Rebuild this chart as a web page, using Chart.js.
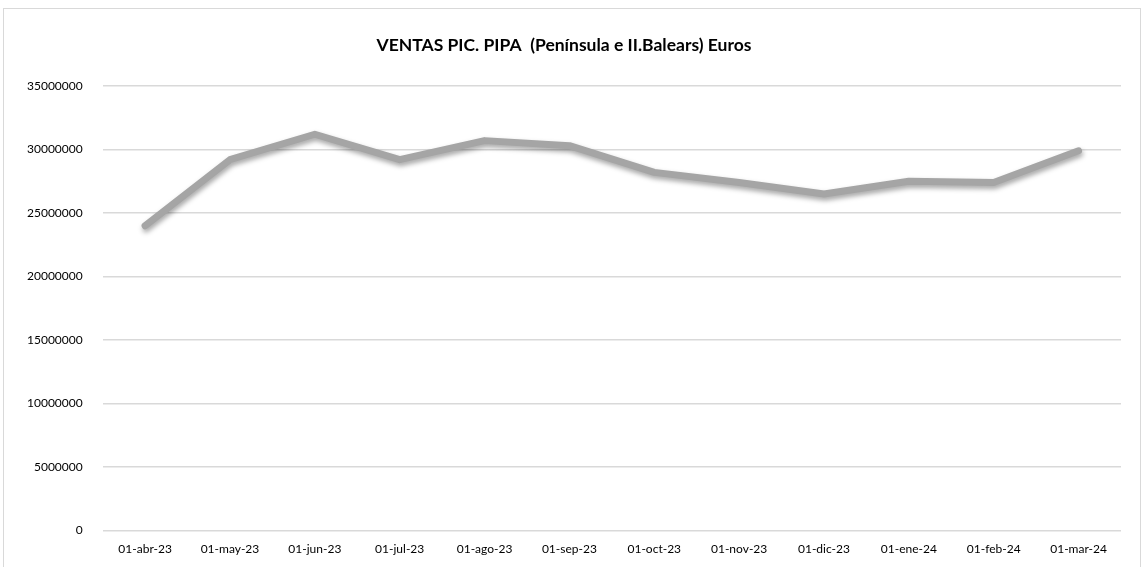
<!DOCTYPE html>
<html>
<head>
<meta charset="utf-8">
<script src="https://cdn.jsdelivr.net/npm/chart.js@4.4.1/dist/chart.umd.min.js"></script>
<style>
  html, body { margin: 0; padding: 0; background: #fff; }
  #wrap { position: relative; width: 1143px; height: 567px; }
  #frame { position: absolute; left: 3px; top: 8px; width: 1136px; height: 580px; border: 1px solid #d9d9d9; }
  canvas { position: absolute; left: 0; top: 0; }
</style>
</head>
<body>
<div id="wrap">
  <div id="frame"></div>
  <canvas id="ventas" width="1143" height="567"></canvas>
</div>
<script>
const months = ['01-abr-23', '01-may-23', '01-jun-23', '01-jul-23', '01-ago-23', '01-sep-23',
  '01-oct-23', '01-nov-23', '01-dic-23', '01-ene-24', '01-feb-24', '01-mar-24'];
const ventas = [24000000, 29200000, 31200000, 29200000, 30700000, 30300000,
  28200000, 27400000, 26500000, 27500000, 27400000, 29900000];

// soft drop shadow under the line, like the spreadsheet original
const lineShadow = {
  id: 'lineShadow',
  beforeDatasetsDraw(chart) {
    const ctx = chart.ctx;
    ctx.save();
    ctx.shadowColor = 'rgba(0,0,0,0.35)';
    ctx.shadowBlur = 5;
    ctx.shadowOffsetX = 1;
    ctx.shadowOffsetY = 3;
  },
  afterDatasetsDraw(chart) {
    chart.ctx.restore();
  }
};

Chart.defaults.font.family = 'Lato, "Open Sans", sans-serif';
Chart.defaults.color = '#000';

new Chart(document.getElementById('ventas'), {
  type: 'line',
  plugins: [lineShadow],
  data: {
    labels: months,
    datasets: [{
      label: 'Ventas',
      data: ventas,
      borderColor: '#a5a5a5',
      borderWidth: 7,
      pointRadius: 0,
      borderCapStyle: 'round',
      borderJoinStyle: 'round',
      tension: 0
    }]
  },
  options: {
    responsive: false,
    animation: false,
    layout: { padding: { left: 7, right: 22, top: 22, bottom: 0 } },
    plugins: {
      legend: { display: false },
      tooltip: { enabled: false },
      title: {
        display: true,
        text: 'VENTAS PIC. PIPA  (Península e II.Balears) Euros',
        font: { size: 17.5, weight: 'bold' },
        color: '#000',
        padding: { top: 13, bottom: 30 }
      }
    },
    scales: {
      x: {
        offset: true,
        grid: { display: false, drawTicks: false },
        border: { display: false },
        ticks: { font: { size: 12 }, padding: 11, maxRotation: 0 }
      },
      y: {
        min: 0,
        max: 35000000,
        grid: { color: '#d9d9d9', lineWidth: 1.5, drawTicks: false },
        border: { display: false },
        ticks: {
          stepSize: 5000000,
          font: { size: 12 },
          padding: 20,
          callback: v => String(v)
        }
      }
    }
  }
});
</script>
</body>
</html>
